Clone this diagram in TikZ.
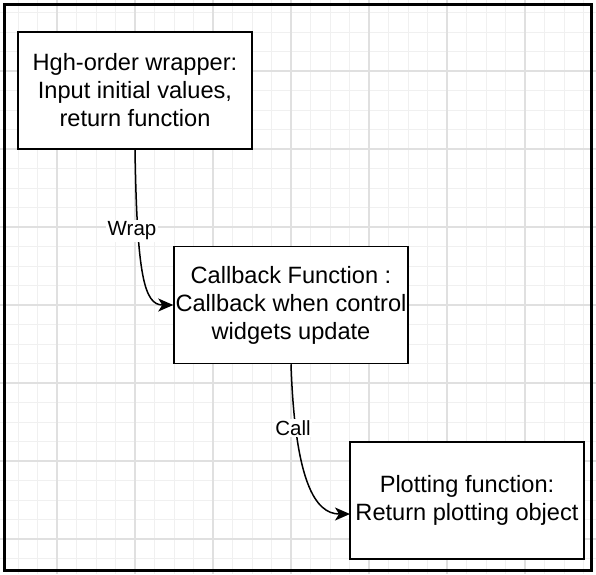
\documentclass[tikz,border=0pt]{standalone}
\usepackage{fontspec}
\setmainfont{Liberation Sans}
\usetikzlibrary{arrows.meta}
\begin{document}
\begin{tikzpicture}[x=1pt,y=-1pt,
  box/.style={draw=black, line width=1.5pt, fill=white, minimum width=234pt, minimum height=117pt, align=center, inner sep=0pt, font=\fontsize{23.6}{28}\selectfont},
  lbl/.style={fill=white, inner sep=1.5pt, font=\fontsize{20.5}{24}\selectfont},
  conn/.style={line width=1.5pt, -{Stealth[length=15pt,width=13pt,inset=4pt]}},
  minorgrid/.style={draw=black!6, line width=1pt},
  majorgrid/.style={draw=black!12, line width=1.2pt},
  framebox/.style={draw=black, line width=3pt, minimum width=587pt, minimum height=566pt, inner sep=0pt}]
\useasboundingbox (0,0) rectangle (596,574);
\fill[white] (0,0) rectangle (596,574);
% grid
\foreach \x in {18,37.5,...,596} \draw[minorgrid] (\x,0) -- (\x,574);
\foreach \y in {12.5,32,...,574} \draw[minorgrid] (0,\y) -- (596,\y);
\foreach \x in {57,135,...,596} \draw[majorgrid] (\x,0) -- (\x,574);
\foreach \y in {71,149,...,574} \draw[majorgrid] (0,\y) -- (596,\y);
% frame
\node[framebox] (frame) at (297.5,287) {};
% boxes
\node[box] (a) at (135,90.5) {Hgh-order wrapper:\\Input initial values,\\return function};
\node[box] (b) at (291,305) {Callback Function :\\Callback when control\\widgets update};
\node[box] (c) at (467,500.5) {Plotting function:\\Return plotting object};
\coordinate (cin) at (350,514);
% connectors
\draw[conn] (a.south) .. controls +(2,126) and +(-29,0) .. (b.west);
\draw[conn] (b.south) .. controls +(4,117) and +(-35,0) .. (cin);
\node[lbl] (wrap) at (132,231) {Wrap};
\node[lbl] (call) at (293,428) {Call};
\end{tikzpicture}
\end{document}
